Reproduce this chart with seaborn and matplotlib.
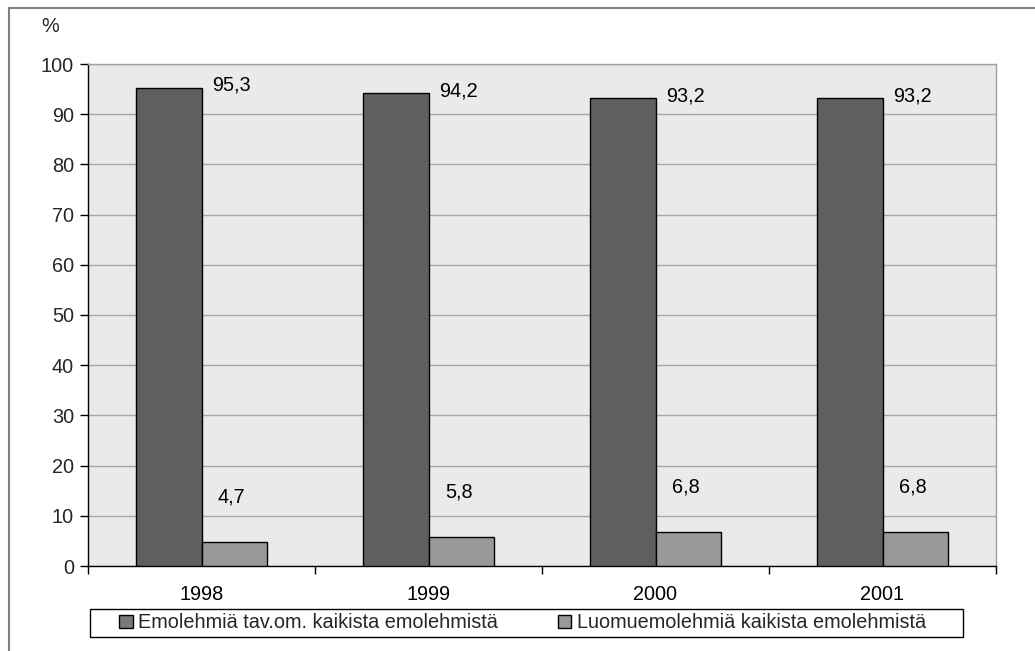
import matplotlib
matplotlib.use("Agg")
import matplotlib.pyplot as plt
import matplotlib.patches as mpatches
from matplotlib.ticker import FixedLocator
import seaborn as sns
import pandas as pd

years = ["1998", "1999", "2000", "2001"]
series_names = ["Emolehmiä tav.om. kaikista emolehmistä",
                "Luomuemolehmiä kaikista emolehmistä"]
conventional = [95.3, 94.2, 93.2, 93.2]
organic = [4.7, 5.8, 6.8, 6.8]
conventional_labels = ["95,3", "94,2", "93,2", "93,2"]
organic_labels = ["4,7", "5,8", "6,8", "6,8"]
y_ticks = [0, 10, 20, 30, 40, 50, 60, 70, 80, 90, 100]

df = pd.DataFrame({
    "vuosi": years * 2,
    "sarja": [series_names[0]] * 4 + [series_names[1]] * 4,
    "osuus": conventional + organic,
})

sns.set_theme(style="white")
plt.rcParams["font.family"] = ["Liberation Sans", "DejaVu Sans"]

FS = 14.3
W, H = 1035, 651
colors = ["#5f5f5f", "#999999"]
fig = plt.figure(figsize=(W / 100, H / 100), dpi=100)
ax = fig.add_axes([88 / W, 85 / H, 908 / W, 502 / H])
ax.set_facecolor("#eaeaea")

sns.barplot(data=df, x="vuosi", y="osuus", hue="sarja", order=years,
            hue_order=series_names, palette=colors, width=0.573, gap=0,
            edgecolor="black", linewidth=1.0, saturation=1, ax=ax,
            legend=False, zorder=3)

ax.set_xlim(-0.5, 3.5)
ax.set_ylim(0, 100)
ax.set_yticks(y_ticks)
ax.set_yticklabels([str(v) for v in y_ticks], fontsize=FS)
ax.yaxis.grid(True, color="#a6a6a6", linewidth=1.0, zorder=0)
ax.set_axisbelow(True)
ax.set_xlabel("")
ax.set_ylabel("")

# category boundaries carry tick marks, labels sit at the centres
ax.set_xticks(range(len(years)))
ax.set_xticklabels(years, fontsize=FS)
ax.xaxis.set_minor_locator(FixedLocator([-0.5, 0.5, 1.5, 2.5, 3.5]))
ax.tick_params(axis="x", which="major", length=0, pad=14, colors="black")
ax.tick_params(axis="x", which="minor", length=6, width=1, color="black",
               direction="out", bottom=True)
ax.tick_params(axis="y", length=6, width=1, color="black", direction="out",
               left=True, pad=4)

for side in ["left", "bottom"]:
    ax.spines[side].set_color("black")
    ax.spines[side].set_linewidth(1.0)
for side in ["top", "right"]:
    ax.spines[side].set_color("#a0a0a0")
    ax.spines[side].set_linewidth(1.0)

half = 0.573 / 2
for i in range(len(years)):
    xl = i + half / 2 - 0.01
    ax.text(xl, conventional[i] + 0.5, conventional_labels[i], ha="center",
            va="center", fontsize=FS, color="black", zorder=5)
    ax.text(xl, organic[i] + 9.0, organic_labels[i], ha="center",
            va="center", fontsize=FS, color="black", zorder=5)

fig.text(50 / W, 1 - 26 / H, "%", fontsize=FS, ha="center", va="center")

# legend entries, with a separately drawn box around them
handles = [mpatches.Patch(facecolor=c, edgecolor="black", linewidth=1.0)
           for c in ["#7a7a7a", "#999999"]]
leg = fig.legend(handles, series_names, ncol=2, loc="center left",
                 bbox_to_anchor=(119 / W, 1 - 623 / H), fontsize=FS,
                 frameon=False, handlelength=0.68, handleheight=0.68,
                 handletextpad=0.3, columnspacing=3.0, borderpad=0,
                 borderaxespad=0)
fig.add_artist(mpatches.Rectangle((90 / W, 1 - 637 / H), 873 / W, 28 / H,
                                  transform=fig.transFigure,
                                  facecolor="white", edgecolor="black",
                                  linewidth=1.0, zorder=0))

# outer chart border
fig.add_artist(plt.Line2D([9 / W, 9 / W], [0, 1 - 8 / H],
                          transform=fig.transFigure, color="#808080",
                          linewidth=1.5))
fig.add_artist(plt.Line2D([9 / W, 1], [1 - 8 / H, 1 - 8 / H],
                          transform=fig.transFigure, color="#808080",
                          linewidth=1.5))

fig.savefig("out.png", dpi=100, facecolor="white")
